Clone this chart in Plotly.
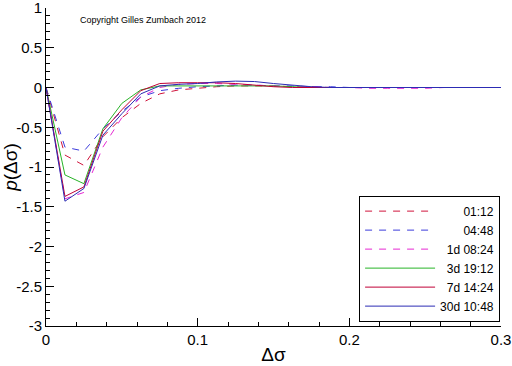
import plotly.graph_objects as go

x_vals = [0, .0125, .025, .0375, .05, .0625, .075, .0875, .1, .1125, .125, .1375, .15,
          .1625, .175, .1875, .2, .2125, .225, .2375, .25, .2625, .275, .2875, .3]

labels = ["01:12", "04:48", "1d 08:24", "3d 19:12", "7d 14:24", "30d 10:48"]

s_0112 = [0, -0.85, -0.98, -0.62, -0.38, -0.20, -0.08, -0.03, -0.01, 0.01, 0.02, 0.02, 0.02,
          0.01, 0.01, 0.0, 0, 0, 0, 0, 0, 0, 0, 0, 0]
s_0448 = [0, -0.75, -0.80, -0.52, -0.30, -0.12, -0.04, -0.01, 0.01, 0.02, 0.03, 0.03, 0.02,
          0.02, 0.01, 0.01, 0, 0, 0, 0, 0, 0, 0, 0, 0]
s_1d = [0, -1.40, -1.32, -0.75, -0.38, -0.12, 0.0, 0.04, 0.05, 0.05, 0.04, 0.03, 0.02,
        0.01, 0.01, 0.0, 0.0, -0.01, -0.01, -0.01, -0.01, 0, 0, 0, 0]
s_3d = [0, -1.10, -1.21, -0.52, -0.20, -0.03, 0.02, 0.02, 0.02, 0.015, 0.015, 0.02, 0.02,
        0.01, 0.0, 0, 0, 0, 0, 0, 0, 0, 0, 0, 0]
s_7d = [0, -1.37, -1.25, -0.55, -0.28, -0.04, 0.05, 0.06, 0.06, 0.06, 0.05, 0.03, 0.01,
        0.0, 0.0, 0, 0, 0, 0, 0, 0, 0, 0, 0, 0]
s_30d = [0, -1.43, -1.27, -0.60, -0.33, -0.08, 0.02, 0.04, 0.05, 0.07, 0.08, 0.075, 0.05,
         0.03, 0.01, 0.0, 0, 0, 0, 0, 0, 0, 0, 0, 0]

series = [s_0112, s_0448, s_1d, s_3d, s_7d, s_30d]
colors = ["#d0143c", "#3c3cdc", "#e628d2", "#28b428", "#c00036", "#2c2cb4"]
dashes = ["7px,7px", "7px,7px", "7px,7px", "solid", "solid", "solid"]
pads = [7, 7, 2, 2, 2, 0]

FONT = "Liberation Sans, Arial, sans-serif"

fig = go.Figure()
for lab, ys, c, d, p in zip(labels, series, colors, dashes, pads):
    fig.add_trace(go.Scatter(
        x=x_vals, y=ys, mode="lines", name="\u00a0" * p + lab,
        line=dict(color=c, width=1, dash=d),
    ))

fig.update_layout(
    width=512, height=366,
    margin=dict(l=46, r=11, t=8, b=40),
    plot_bgcolor="white", paper_bgcolor="white",
    font=dict(family=FONT, color="black"),
    showlegend=True,
    legend=dict(
        x=0.998, y=0.41, xanchor="right", yanchor="top",
        bordercolor="black", borderwidth=1, bgcolor="white",
        font=dict(size=12, family=FONT), itemwidth=70,
        tracegroupgap=0, traceorder="normal",
    ),
    annotations=[dict(
        text="Copyright Gilles Zumbach 2012", x=0.07, y=0.985,
        xref="paper", yref="paper", xanchor="left", yanchor="top",
        showarrow=False, font=dict(size=9, family=FONT),
    )],
)

fig.update_xaxes(
    range=[0, 0.3], tickvals=[0, 0.1, 0.2, 0.3], ticktext=["0", "0.1", "0.2", "0.3"],
    ticks="inside", ticklen=8, tickcolor="black", showline=True, linecolor="black",
    linewidth=1, showgrid=False, zeroline=False, automargin=False,
    ticklabeloverflow="allow",
    minor=dict(ticks="inside", dtick=0.02, ticklen=4, tickcolor="black", showgrid=False),
    tickfont=dict(size=15, family=FONT),
    title=dict(text="Δσ", font=dict(size=19, family=FONT), standoff=0),
)
fig.update_yaxes(
    range=[-3, 1], tickvals=[-3, -2.5, -2, -1.5, -1, -0.5, 0, 0.5, 1],
    ticktext=["-3", "-2.5", "-2", "-1.5", "-1", "-0.5", "0", "0.5", "1"],
    ticks="inside", ticklen=8, tickcolor="black", showline=True, linecolor="black",
    linewidth=1, showgrid=False, zeroline=False, automargin=False,
    ticklabeloverflow="allow",
    minor=dict(ticks="inside", dtick=0.1, ticklen=4, tickcolor="black", showgrid=False),
    tickfont=dict(size=15, family=FONT),
    title=dict(text="<i>p</i>(Δσ)", font=dict(size=19, family=FONT), standoff=2),
)

fig.write_html("out.html", config={"displayModeBar": False},
               post_script="document.body.style.margin='0px';")
